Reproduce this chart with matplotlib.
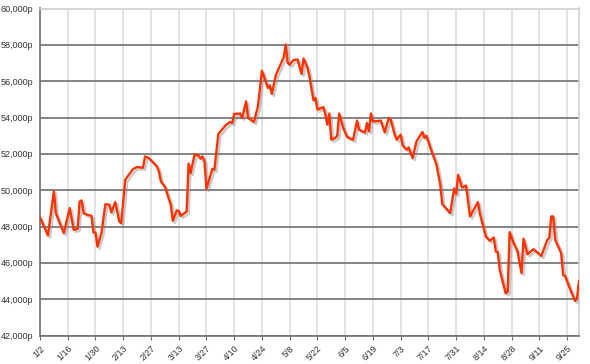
import matplotlib
matplotlib.use("Agg")
import matplotlib.pyplot as plt
import matplotlib.patheffects as pe

# days counted from 1/2, price in p
days = [0, 4, 7, 8, 10, 12, 15, 17, 19, 20, 21, 22, 24, 26, 27, 28, 29, 31, 33, 35,
        36, 38, 40, 41, 43, 47, 49, 52, 53, 55, 59, 60, 61, 63, 66, 67, 69, 70, 71, 74,
        75, 76, 78, 80, 81, 82, 83, 84, 87, 88, 90, 94, 96, 97, 98, 101, 102, 104, 105, 108,
        110, 112, 115, 116, 117, 119, 123, 124, 125, 126, 128, 130, 132, 133, 135, 136, 138, 139, 140, 143,
        144, 145, 146, 147, 149, 150, 151, 153, 155, 158, 160, 161, 164, 165, 166, 167, 168, 172, 174, 176,
        177, 179, 180, 182, 183, 185, 186, 188, 190, 193, 194, 195, 197, 200, 202, 203, 207, 209, 210, 211,
        213, 215, 217, 221, 222, 225, 227, 229, 230, 231, 232, 235, 236, 237, 239, 241, 243, 244, 246, 249,
        253, 256, 257, 258, 259, 260, 263, 264, 265, 267, 270, 271, 272]
price = [48500, 47510, 49950, 48740, 48190, 47640, 49020, 47820, 47880, 49380, 49440, 48740, 48650, 48590, 47670, 47670, 46900, 47640, 49240, 49200,
         48780, 49350, 48280, 48190, 50580, 51170, 51280, 51240, 51860, 51770, 51310, 51040, 50480, 50210, 49200, 48320, 48890, 48870, 48590, 48830,
         51460, 50950, 51960, 51920, 51740, 51860, 51590, 50080, 51180, 51130, 53100, 53610, 53760, 53700, 54200, 54220, 53980, 54890, 53980, 53760,
         54620, 56580, 55630, 55770, 55300, 56330, 57320, 58020, 57010, 56910, 57170, 57190, 56400, 57250, 56730, 56240, 54950, 55080, 54440, 54580,
         54160, 53610, 54220, 52780, 52880, 53000, 54220, 53430, 52930, 52780, 53830, 53330, 53180, 53700, 53240, 54220, 53790, 53830, 53180, 53980,
         53880, 53060, 52780, 53060, 52470, 52230, 52360, 51770, 52690, 53210, 52880, 53000, 52330, 51440, 50300, 49240, 48740, 50100, 49800, 50850,
         50150, 50260, 48560, 49350, 48700, 47450, 47220, 47400, 46630, 46600, 45620, 44330, 44420, 47700, 47090, 46630, 45440, 47330, 46480, 46760,
         46390, 47270, 47370, 48560, 48560, 47270, 46540, 45340, 45290, 44700, 43910, 44060, 45010]

tick_days = list(range(0, 267, 14))
tick_labels = ["1/2", "1/16", "1/30", "2/13", "2/27", "3/13", "3/27", "4/10", "4/24", "5/8",
               "5/22", "6/5", "6/19", "7/3", "7/17", "7/31", "8/14", "8/28", "9/11", "9/25"]
y_ticks = list(range(42000, 60001, 2000))

plt.rcParams['font.family'] = ['Liberation Sans', 'DejaVu Sans']

fig = plt.figure(figsize=(5.9, 3.64), dpi=100)
ax = fig.add_axes([40/590, 1-335.7/364, 539/590, (335.7-8.5)/364])

ax.plot(days, price, color='#ff3300', linewidth=1.7, solid_joinstyle='round', zorder=3,
        path_effects=[pe.SimpleLineShadow(offset=(1.5, -1.5), shadow_color='#888888', alpha=0.45),
                      pe.Normal()])

ax.set_xlim(0, 272)
ax.set_ylim(42000, 60000)
ax.set_yticks(y_ticks)
ax.set_yticklabels([f"{v:,}p" for v in y_ticks])
ax.set_xticks(tick_days)
ax.set_xticklabels(tick_labels, rotation=45, ha='right', va='top', rotation_mode='anchor')

for v in y_ticks:
    ax.axhline(v, color='#707070', linewidth=1.2, zorder=1)
for d in tick_days:
    ax.axvline(d, color='#dddddd', linewidth=1.2, zorder=0)

ax.spines['left'].set_color('#707070')
ax.spines['bottom'].set_color('#707070')
ax.spines['top'].set_color('#d0d0d0')
ax.spines['right'].set_color('#d0d0d0')
for s in ax.spines.values():
    s.set_linewidth(1.2)

ax.tick_params(axis='y', length=0, pad=5, labelsize=6.5, labelcolor='#333333')
ax.tick_params(axis='x', length=3, color='#707070', pad=3, labelsize=6.5, labelcolor='#333333')

plt.savefig("out.png", dpi=100)
